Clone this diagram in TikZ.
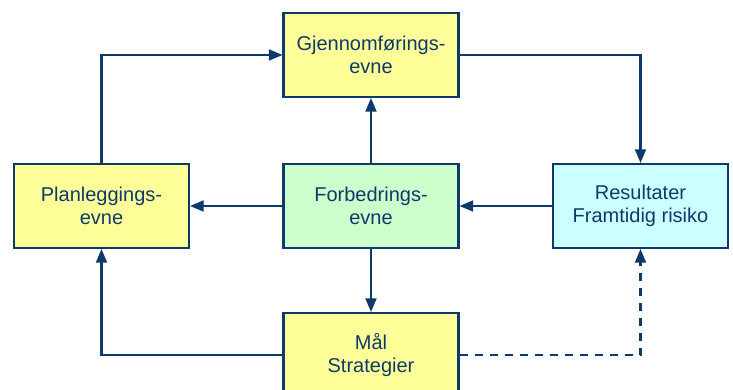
\documentclass[tikz,border=0pt]{standalone}
\usepackage{tikz}
\usepackage{xcolor}
\usepackage{fontspec}
\setmainfont{Liberation Sans}
\usetikzlibrary{positioning,
	calc,
	shapes,
	arrows}

\definecolor{navy}{HTML}{0E3A6B}
\definecolor{boxyellow}{HTML}{FFFF99}
\definecolor{boxgreen}{HTML}{CCFFCC}
\definecolor{boxcyan}{HTML}{CCFFFF}

\tikzset{
	box/.style={draw=navy, line width=2.2pt, text=navy, align=center,
		minimum width=175pt, minimum height=84pt, inner sep=0pt,
		font=\fontsize{20}{23}\selectfont},
	flow/.style={draw=navy, line width=2.2pt, ->, >=triangle 45},
	dashflow/.style={flow, dash pattern=on 8pt off 7pt}
}

\begin{document}
\begin{tikzpicture}[x=1pt, y=-1pt]
	\clip (0, 0) rectangle (733, 390);
	\fill[white] (0, 0) rectangle (733, 390);
	% boxes
	\node[box, fill=boxyellow] (gjen) at (371, 55) {Gjennomførings-\\evne};
	\node[box, fill=boxyellow] (plan) at (101.5, 206) {Planleggings-\\evne};
	\node[box, fill=boxgreen] (forb) at (371, 206) {Forbedrings-\\evne};
	\node[box, fill=boxcyan] (res) at (640.5, 206) {Resultater\\Framtidig risiko};
	\node[box, fill=boxyellow] (maal) at (371, 355) {Mål\\Strategier};
	% connectors
	\draw[flow] (plan.north) |- (gjen.west);
	\draw[flow] (gjen.east) -| (res.north);
	\draw[flow] (forb.north) -- (gjen.south);
	\draw[flow] (forb.west) -- (plan.east);
	\draw[flow] (res.west) -- (forb.east);
	\draw[flow] (forb.south) -- (maal.north);
	\draw[flow] (maal.west) -| (plan.south);
	\draw[dashflow] (maal.east) -| (res.south);
\end{tikzpicture}
\end{document}
